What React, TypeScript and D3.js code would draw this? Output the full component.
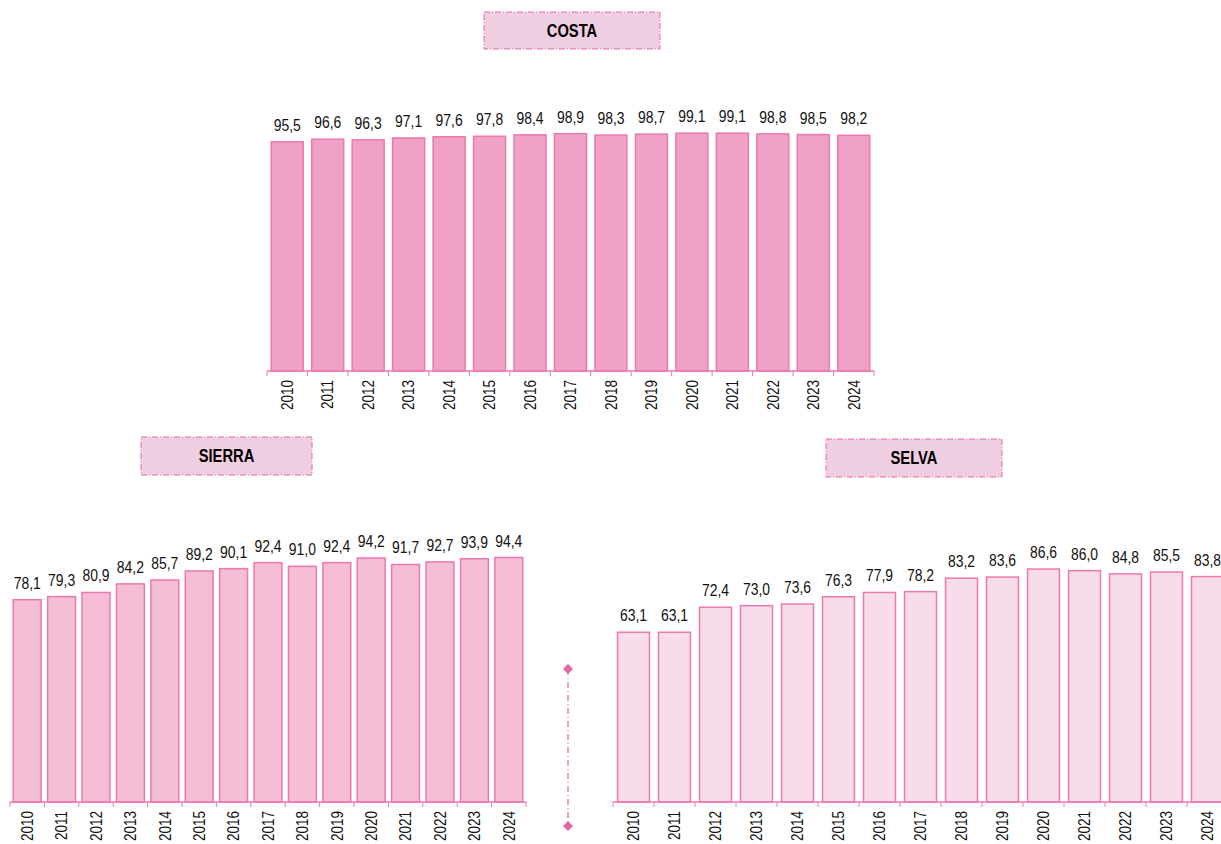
import React, { useEffect, useRef } from "react";
import * as d3 from "d3";

const years = ["2010", "2011", "2012", "2013", "2014", "2015", "2016", "2017", "2018", "2019", "2020", "2021", "2022", "2023", "2024"];
const costaValues = [95.5, 96.6, 96.3, 97.1, 97.6, 97.8, 98.4, 98.9, 98.3, 98.7, 99.1, 99.1, 98.8, 98.5, 98.2];
const sierraValues = [78.1, 79.3, 80.9, 84.2, 85.7, 89.2, 90.1, 92.4, 91.0, 92.4, 94.2, 91.7, 92.7, 93.9, 94.4];
const selvaValues = [63.1, 63.1, 72.4, 73.0, 73.6, 76.3, 77.9, 78.2, 83.2, 83.6, 86.6, 86.0, 84.8, 85.5, 83.8];
const regionNames = ["COSTA", "SIERRA", "SELVA"];

const fmt = (v: number) => d3.format(".1f")(v).replace(".", ",");

type Panel = {
  values: number[];
  x0: number;
  x1: number;
  base: number;
  h: number;
  pad: number;
  fill: string;
  title: string;
  box: [number, number, number, number];
};

export default function App() {
  const ref = useRef<SVGSVGElement | null>(null);

  useEffect(() => {
    const svg = d3.select(ref.current);
    svg.selectAll("*").remove();

    const stroke = "#ec78ad";
    const font = "'Liberation Sans', Arial, sans-serif";
    const narrow = 0.82; // the source uses a condensed face

    const panels: Panel[] = [
      { values: costaValues, x0: 267, x1: 874, base: 371, h: 240, pad: 0.21, fill: "#f0a2c6", title: regionNames[0], box: [484, 12, 176, 37] },
      { values: sierraValues, x0: 10, x1: 526, base: 802, h: 259, pad: 0.19, fill: "#f6bdd7", title: regionNames[1], box: [141, 437, 171, 38] },
      { values: selvaValues, x0: 613, x1: 1228, base: 802, h: 269, pad: 0.22, fill: "#f8dcea", title: regionNames[2], box: [826, 439, 176, 38] },
    ];

    panels.forEach((p) => {
      const x = d3.scaleBand<string>().domain(years).range([p.x0, p.x1]).paddingInner(p.pad).paddingOuter(p.pad / 2);
      const y = d3.scaleLinear().domain([0, 100]).range([p.base, p.base - p.h]);
      const g = svg.append("g");

      // title box
      g.append("rect")
        .attr("x", p.box[0]).attr("y", p.box[1])
        .attr("width", p.box[2]).attr("height", p.box[3])
        .attr("fill", "#f0cee2")
        .attr("stroke", "#e468a4")
        .attr("stroke-width", 1)
        .attr("stroke-dasharray", "6,2,1,2");
      g.append("text")
        .attr("transform", `translate(${p.box[0] + p.box[2] / 2},${p.box[1] + p.box[3] / 2}) scale(${narrow},1)`)
        .attr("dy", "0.36em")
        .attr("text-anchor", "middle")
        .style("font", `bold 18px ${font}`)
        .text(p.title);

      g.selectAll("rect.bar")
        .data(p.values)
        .join("rect")
        .attr("class", "bar")
        .attr("x", (_, i) => x(years[i])!)
        .attr("y", (d) => y(d))
        .attr("width", x.bandwidth())
        .attr("height", (d) => y(0) - y(d))
        .attr("fill", p.fill)
        .attr("stroke", stroke)
        .attr("stroke-width", 1.5);

      g.selectAll("text.val")
        .data(p.values)
        .join("text")
        .attr("class", "val")
        .attr("transform", (d, i) => `translate(${x(years[i])! + x.bandwidth() / 2},${y(d) - 11}) scale(${narrow},1)`)
        .attr("text-anchor", "middle")
        .style("font", `17px ${font}`)
        .attr("fill", "#111")
        .text((d) => fmt(d));

      // axis
      const step = x.step();
      g.append("line")
        .attr("x1", p.x0).attr("x2", p.x1)
        .attr("y1", p.base).attr("y2", p.base)
        .attr("stroke", stroke).attr("stroke-width", 1.5);
      g.selectAll("line.tick")
        .data(d3.range(years.length + 1))
        .join("line")
        .attr("class", "tick")
        .attr("x1", (i) => p.x0 + i * step).attr("x2", (i) => p.x0 + i * step)
        .attr("y1", p.base).attr("y2", p.base + 5)
        .attr("stroke", stroke).attr("stroke-width", 1);
      g.selectAll("text.yr")
        .data(years)
        .join("text")
        .attr("class", "yr")
        .attr("transform", (d) => `translate(${x(d)! + x.bandwidth() / 2},${p.base + 9}) rotate(-90) scale(${narrow},1)`)
        .attr("dy", "0.35em")
        .attr("text-anchor", "end")
        .style("font", `16.5px ${font}`)
        .attr("fill", "#111")
        .text((d) => d);
    });

    // divider
    const div = svg.append("g");
    div.append("line")
      .attr("x1", 568).attr("x2", 568).attr("y1", 669).attr("y2", 826)
      .attr("stroke", "#e468a4").attr("stroke-width", 1.2)
      .attr("stroke-dasharray", "6,3,1,3");
    [669, 826].forEach((yy) => {
      div.append("path")
        .attr("d", d3.symbol(d3.symbolSquare, 50)()!)
        .attr("transform", `translate(568,${yy}) rotate(45)`)
        .attr("fill", "#e468a4");
    });
  }, []);

  return (
    <svg
      ref={ref}
      width={1221}
      height={844}
      style={{ position: "absolute", left: 0, top: 0, background: "#fff" }}
    />
  );
}
